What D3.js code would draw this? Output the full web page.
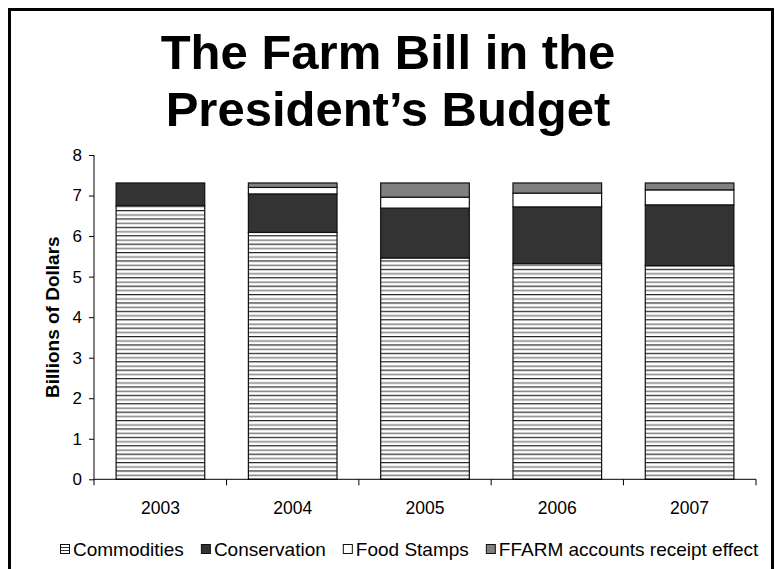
<!DOCTYPE html>
<html>
<head>
<meta charset="utf-8">
<script src="https://cdn.jsdelivr.net/npm/d3@7/dist/d3.min.js"></script>
<style>
  html, body { margin: 0; padding: 0; background: #fff; }
  svg { display: block; font-family: "Liberation Sans", Arial, sans-serif; }
</style>
</head>
<body>
<svg id="chart" width="775" height="569"></svg>
<script>
const years = ["2003", "2004", "2005", "2006", "2007"];
const seriesNames = ["Commodities", "Conservation", "Food Stamps", "FFARM accounts receipt effect"];
const commodities = [6.75, 6.09, 5.46, 5.32, 5.27];
const conservation = [0.56, 0.95, 1.23, 1.40, 1.50];
const foodStamps = [0, 0.16, 0.27, 0.34, 0.37];
const ffarm = [0, 0.11, 0.35, 0.25, 0.17];
const yTicks = [0, 1, 2, 3, 4, 5, 6, 7, 8];
const titleLines = ["The Farm Bill in the", "President\u2019s Budget"];
const yTitle = "Billions of Dollars";

const svg = d3.select("#chart");

// patterns
const defs = svg.append("defs");
const pat = defs.append("pattern").attr("id", "hstripe")
  .attr("patternUnits", "userSpaceOnUse").attr("width", 10).attr("height", 8.4);
pat.append("rect").attr("width", 10).attr("height", 8.4).attr("fill", "#fff");
pat.append("rect").attr("y", 0).attr("width", 10).attr("height", 1.2).attr("fill", "#222");
pat.append("rect").attr("y", 4.2).attr("width", 10).attr("height", 1.6).attr("fill", "#8a8a8a");

const pat2 = defs.append("pattern").attr("id", "hstripeS")
  .attr("patternUnits", "userSpaceOnUse").attr("width", 10).attr("height", 3);
pat2.append("rect").attr("width", 10).attr("height", 3).attr("fill", "#fff");
pat2.append("rect").attr("y", 1).attr("width", 10).attr("height", 1).attr("fill", "#333");

const fills = ["url(#hstripe)", "#333333", "#ffffff", "#808080"];
const legendFills = ["url(#hstripeS)", "#333333", "#ffffff", "#808080"];

// frame
svg.append("rect").attr("x", 9.5).attr("y", 9.5).attr("width", 763).attr("height", 600)
  .attr("fill", "none").attr("stroke", "#000").attr("stroke-width", 3);

// title
svg.append("g").selectAll("text").data(titleLines).join("text")
  .attr("x", 388).attr("y", (d, i) => 69 + i * 57)
  .attr("text-anchor", "middle")
  .attr("font-size", 49).attr("font-weight", "bold").attr("fill", "#000")
  .text(d => d);

// scales
const x = d3.scaleBand().domain(years).range([94, 756]).paddingInner(0.33).paddingOuter(0.167);
const y = d3.scaleLinear().domain([0, 8]).range([479.3, 155]);

const data = years.map((yr, i) => ({
  year: yr, Commodities: commodities[i], Conservation: conservation[i],
  "Food Stamps": foodStamps[i], "FFARM accounts receipt effect": ffarm[i]
}));
const stacked = d3.stack().keys(seriesNames)(data);

const gBars = svg.append("g");
stacked.forEach((layer, li) => {
  gBars.append("g").selectAll("rect")
    .data(layer.filter(d => d[1] - d[0] > 0))
    .join("rect")
    .attr("x", d => x(d.data.year))
    .attr("width", x.bandwidth())
    .attr("y", d => y(d[1]))
    .attr("height", d => y(d[0]) - y(d[1]))
    .attr("fill", fills[li])
    .attr("stroke", "#111")
    .attr("stroke-width", 1.2);
});

// y axis
const yAxis = d3.axisLeft(y).tickValues(yTicks).tickSize(5).tickPadding(7).tickFormat(d3.format("d"));
const gy = svg.append("g").attr("transform", "translate(94,0)").call(yAxis);
gy.select(".domain").attr("stroke", "#000").attr("d", "M0," + y(0) + "V" + y(8));
gy.selectAll(".tick line").attr("stroke", "#000");
gy.selectAll(".tick text").attr("font-size", 17).attr("fill", "#000")
  .attr("font-family", "'Liberation Sans', Arial, sans-serif");

// x axis
const xAxis = d3.axisBottom(x).tickSize(0).tickPadding(22);
const gx = svg.append("g").attr("transform", "translate(0," + y(0) + ")").call(xAxis);
gx.select(".domain").attr("stroke", "#000").attr("d", "M94,0H756");
gx.selectAll(".tick text").attr("font-size", 17.5).attr("fill", "#000")
  .attr("font-family", "'Liberation Sans', Arial, sans-serif");
// category separator ticks
const sepPos = years.map(yv => x(yv) - x.step() * x.paddingInner() / 2);
sepPos[0] = 94;
sepPos.push(756);
gx.append("g").selectAll("line").data(sepPos).join("line")
  .attr("x1", d => d).attr("x2", d => d).attr("y1", 0).attr("y2", 6)
  .attr("stroke", "#000");

// y title
svg.append("text")
  .attr("transform", "translate(59," + ((y(0) + y(8)) / 2) + ") rotate(-90)")
  .attr("text-anchor", "middle")
  .attr("font-size", 19).attr("font-weight", "bold").attr("fill", "#000")
  .text(yTitle);

// legend
const gl = svg.append("g").attr("transform", "translate(0,549)");
let cx = 60;
seriesNames.forEach((name, i) => {
  gl.append("rect").attr("x", cx + 0.5).attr("y", -4.5).attr("width", 9).attr("height", 9)
    .attr("fill", legendFills[i]).attr("stroke", "#111").attr("stroke-width", 1);
  const t = gl.append("text").attr("x", cx + 13).attr("y", 7)
    .attr("font-size", 19).attr("fill", "#000").text(name);
  cx = cx + 13 + t.node().getComputedTextLength() + 17;
});
</script>
</body>
</html>
